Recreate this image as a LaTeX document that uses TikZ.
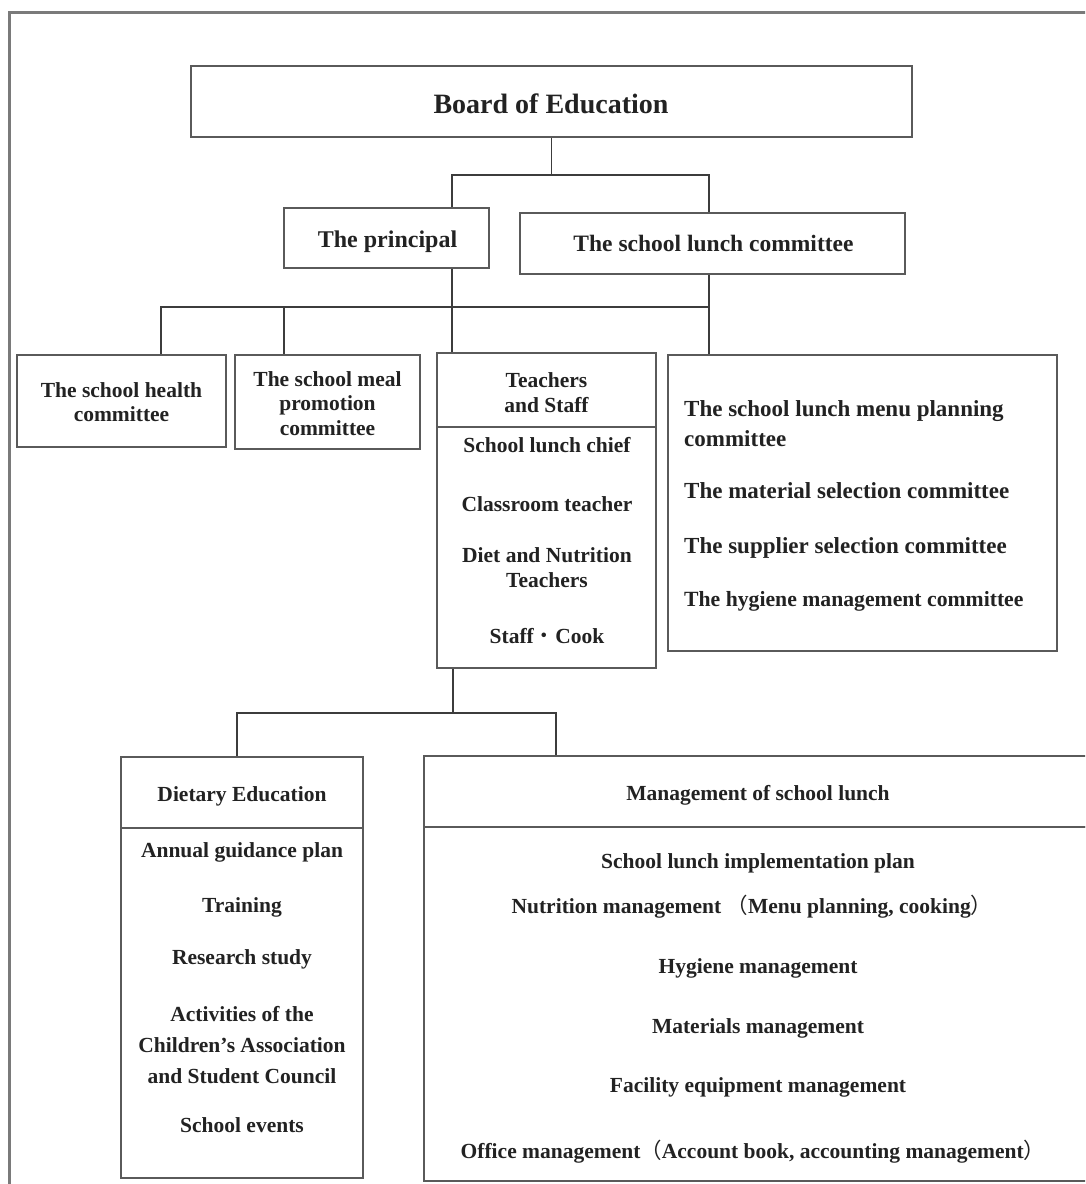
\documentclass[tikz,border=0pt]{standalone}
\usepackage{fontspec}
\setmainfont{Liberation Serif}
\newfontfamily\cjk{Noto Sans CJK JP}
\definecolor{boxc}{HTML}{5A5A5A}
\definecolor{linec}{HTML}{3C3C3C}
\definecolor{framec}{HTML}{7A7A7A}
\definecolor{txtc}{HTML}{222222}
\tikzset{
  box/.style={draw=boxc, line width=1.8pt, rectangle, inner sep=0pt, fill=white},
  sz/.style 2 args={minimum width=#1pt, minimum height=#2pt},
  conn/.style={draw=linec, line width=1.5pt},
  lbl/.style={anchor=base, inner sep=0pt, text=txtc, font=\bfseries\fontsize{21.5}{25}\selectfont},
  lblL/.style={lbl, anchor=base west, font=\bfseries\fontsize{23}{27}\selectfont},
}
\begin{document}
\begin{tikzpicture}[x=1pt,y=-1pt]
\useasboundingbox (0,0) rectangle (1085,1184);
\fill[white] (0,0) rectangle (1085,1184);
\clip (0,0) rectangle (1085,1184);
\draw[framec, line width=3pt] (9,1210) -- (9,12) -- (1100,12);

% boxes
\node[box, sz={721}{71}] (board) at (551.5,101.5) {};
\node[box, sz={205}{60}] (principal) at (386.5,238) {};
\node[box, sz={385}{61}] (lunch) at (712.5,243.5) {};
\node[box, sz={209}{92}] (health) at (121.5,401) {};
\node[box, sz={185}{94}] (meal) at (327.5,402) {};
\node[box, sz={219}{74}] (teachH) at (546.5,390) {};
\node[box, sz={219}{241}] (teachB) at (546.5,547.5) {};
\node[box, sz={389}{296}] (right) at (862.5,503) {};
\node[box, sz={242}{71}] (dietH) at (242,792.5) {};
\node[box, sz={242}{350}] (dietB) at (242,1003) {};
\node[box, sz={668}{71}] (mgmtH) at (758,791.5) {};
\node[box, sz={668}{354}] (mgmtB) at (758,1004) {};

% connectors
\coordinate (pA) at (452,175);
\coordinate (lA) at (709,175);
\draw[conn] (board.south) -- (board.south |- pA);
\draw[conn] (pA |- principal.north) -- (pA) -- (lA) -- (lA |- lunch.north);
\coordinate (hB) at (161,307);
\coordinate (mB) at (284,307);
\coordinate (tB) at (452,307);
\coordinate (rB) at (709,307);
\draw[conn] (hB |- health.north) -- (hB) -- (rB);
\draw[conn] (mB) -- (mB |- meal.north);
\draw[conn] (tB |- principal.south) -- (tB |- teachH.north);
\draw[conn] (rB |- lunch.south) -- (rB |- right.north);
\coordinate (dC) at (237,713);
\coordinate (tC) at (453,713);
\coordinate (mC) at (556,713);
\draw[conn] (tC |- teachB.south) -- (tC);
\draw[conn] (dC |- dietH.north) -- (dC) -- (mC) -- (mC |- mgmtH.north);

% texts
\node[lbl, font=\bfseries\fontsize{28}{32}\selectfont] (tboard) at (551,113) {Board of Education};
\node[lbl, font=\bfseries\fontsize{24}{28}\selectfont] (tprin) at (387.5,247) {The principal};
\node[lbl, font=\bfseries\fontsize{23.5}{28}\selectfont] (tlunch) at (713.5,251) {The school lunch committee};

\node[lbl] (th1) at (121.5,397) {The school health};
\node[lbl] (th2) at (121.5,421) {committee};

\node[lbl] (tm1) at (327.5,386) {The school meal};
\node[lbl] (tm2) at (327.5,410.5) {promotion};
\node[lbl] (tm3) at (327.5,435) {committee};

\node[lbl] (tt1) at (546.5,387) {Teachers};
\node[lbl] (tt2) at (546.5,412) {and Staff};
\node[lbl] (tt3) at (547,452) {School lunch chief};
\node[lbl] (tt4) at (547,511) {Classroom teacher};
\node[lbl] (tt5) at (547,562) {Diet and Nutrition};
\node[lbl] (tt6) at (547,587) {Teachers};
\node[lbl] (tt7) at (547,643) {Staff{\cjk\mdseries ・}Cook};

\node[lblL] (tr1) at (684,416) {The school lunch menu planning};
\node[lblL] (tr2) at (684,446) {committee};
\node[lblL] (tr3) at (684,498) {The material selection committee};
\node[lblL] (tr4) at (684,553) {The supplier selection committee};
\node[lblL, font=\bfseries\fontsize{21.7}{26}\selectfont] (tr5) at (684,606) {The hygiene management committee};

\node[lbl] (td0) at (242,801) {Dietary Education};
\node[lbl] (td1) at (242,857) {Annual guidance plan};
\node[lbl] (td2) at (242,912) {Training};
\node[lbl] (td3) at (242,964) {Research study};
\node[lbl] (td4) at (242,1021) {Activities of the};
\node[lbl] (td5) at (242,1052) {Children’s Association};
\node[lbl] (td6) at (242,1083) {and Student Council};
\node[lbl] (td7) at (242,1132) {School events};

\node[lbl] (tg0) at (758,800) {Management of school lunch};
\node[lbl] (tg1) at (758,868) {School lunch implementation plan};
\node[lbl] (tg2) at (752,913) {Nutrition management {\cjk\mdseries （}Menu planning, cooking{\cjk\mdseries ）}};
\node[lbl] (tg3) at (758,973) {Hygiene management};
\node[lbl] (tg4) at (758,1033) {Materials management};
\node[lbl] (tg5) at (758,1092) {Facility equipment management};
\node[lbl] (tg6) at (753,1158) {Office management{\cjk\mdseries （}Account book, accounting management{\cjk\mdseries ）}};
\end{tikzpicture}
\end{document}
